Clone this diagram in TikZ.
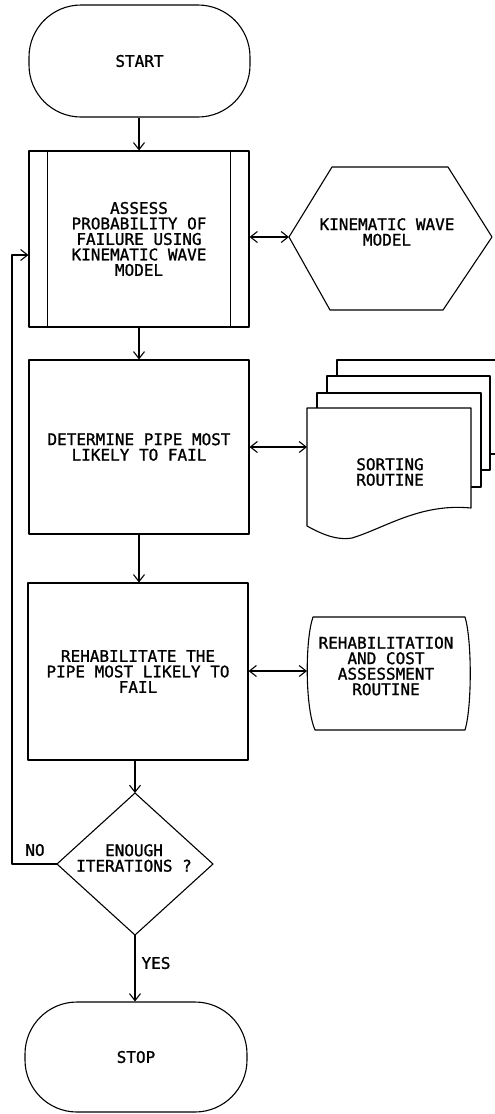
\documentclass[tikz,border=0pt]{standalone}
\usepackage{fontspec}
\newfontfamily\plotfont[FakeBold=1.2]{DejaVu Sans Mono}
\usetikzlibrary{arrows.meta}
\begin{document}
\begin{tikzpicture}[x=1pt,y=-1pt,
  every node/.style={font=\plotfont\fontsize{16}{15.5}\selectfont, align=center, inner sep=0pt},
  ln/.style={line width=1.1pt, black, line join=round},
  arr/.style={ln, -{Straight Barb[length=7pt,width=11pt,line width=1.1pt]}},
  darr/.style={ln, {Straight Barb[length=7pt,width=11pt,line width=1.1pt]}-{Straight Barb[length=7pt,width=11pt,line width=1.1pt]}},
  term/.style={ln, draw, rounded corners=52pt},
  proc/.style={ln, draw, minimum width=220pt},
  lbl/.style={font=\plotfont\fontsize{16}{15.5}\selectfont}
]
\useasboundingbox (0,0) rectangle (495,1114);
\begin{scope}
\clip (0,0) rectangle (495,1114);

% terminals and process boxes
\node[term, minimum width=221pt, minimum height=112pt] (start) at (139.5,61) {START};
\node[proc, minimum height=176pt] (box1) at (139,239) {ASSESS\\PROBABILITY OF\\FAILURE USING\\KINEMATIC WAVE\\MODEL};
\draw[ln] ([xshift=19pt]box1.north west) -- ([xshift=19pt]box1.south west);
\draw[ln] ([xshift=-19pt]box1.north east) -- ([xshift=-19pt]box1.south east);
\node[proc, minimum height=174pt] (box2) at (139,447) {DETERMINE PIPE MOST\\LIKELY TO FAIL};
\node[proc, minimum height=177pt] (box3) at (138,671.5) {REHABILITATE THE\\PIPE MOST LIKELY TO\\FAIL};
\node[term, minimum width=222pt, minimum height=110pt] (stop) at (136,1057) {STOP};

% hexagon (predefined model)
\coordinate (hexL) at (289,237);
\draw[ln] (332,167) -- (448,167) -- (492,237) -- (443,310) -- (330,310) -- (hexL) -- cycle;
\node (kw) at (387,232) {KINEMATIC WAVE\\MODEL};

% multiple documents
\draw[ln, fill=white] (337,360) rectangle (505,454);
\draw[ln, fill=white] (327,376) rectangle (490,470);
\draw[ln, fill=white] (317,393) rectangle (481,487);
\coordinate (docL) at (307,447);
\draw[ln, fill=white] (307,408) -- (471,408) -- (471,508)
   .. controls (420,503) and (385,528) .. (352,538)
   .. controls (335,541) and (318,532) .. (307,526) -- cycle;
\node (sort) at (390,472) {SORTING\\ROUTINE};

% stored data
\coordinate (sdL) at (307,671);
\draw[ln] (313,617) -- (465,617) .. controls (472,640) and (472,707) .. (465,730)
   -- (315,730) .. controls (305,707) and (305,640) .. (313,617) -- cycle;
\node (rehab) at (386,666) {REHABILITATION\\AND COST\\ASSESSMENT\\ROUTINE};

% decision
\coordinate (dT) at (135,793);
\coordinate (dR) at (213,864);
\coordinate (dB) at (135,935);
\coordinate (dL) at (57,864);
\draw[ln] (dT) -- (dR) -- (dB) -- (dL) -- cycle;
\node (dec) at (134,858) {ENOUGH\\ITERATIONS ?};

% connectors
\draw[arr] (box1.north |- start.south) -- (box1.north);
\draw[arr] (box1.south) -- (box2.north);
\draw[arr] (box2.south) -- (box2.south |- box3.north);
\draw[arr] (dT |- box3.south) -- (dT);
\draw[arr] (dB) -- (dB |- stop.north);
\draw[darr] (box1.east |- hexL) -- (hexL);
\draw[darr] (box2.east) -- (docL);
\draw[darr] (box3.east |- sdL) -- (sdL);
\coordinate (loopC) at (12,864);
\draw[arr] (dL) -- (loopC) |- ([yshift=-16pt]box1.west);

\node[lbl] (no) at (35,850) {NO};
\node[lbl] (yes) at (156,963) {YES};
\end{scope}
\end{tikzpicture}
\end{document}
